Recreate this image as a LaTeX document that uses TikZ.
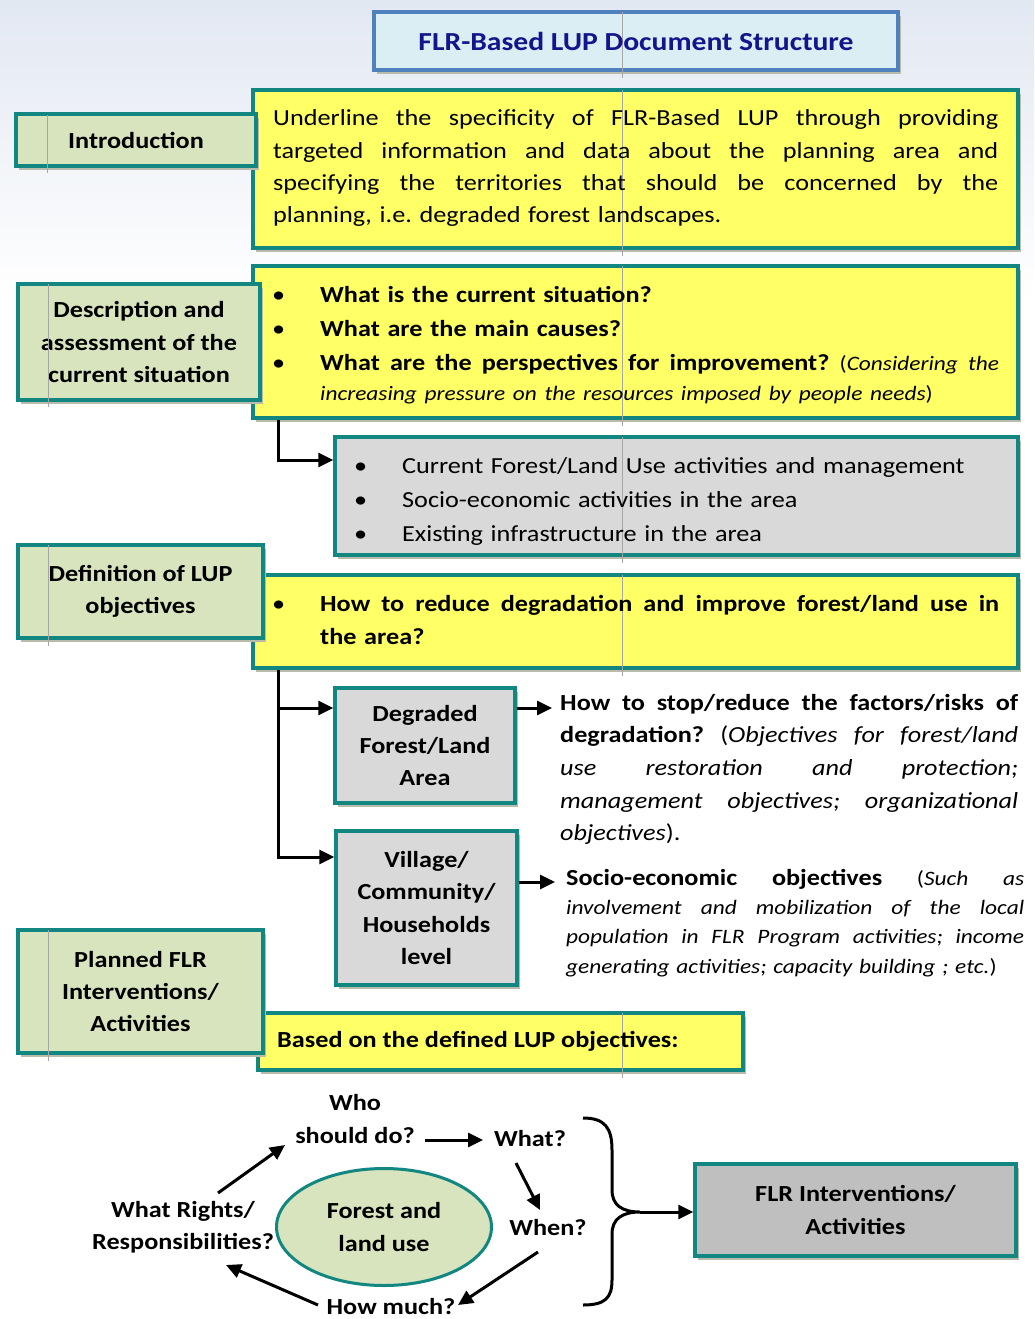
\documentclass[tikz,border=0pt]{standalone}
\usepackage{fontspec}
\setmainfont{Carlito}[FakeStretch=1.14]
\usetikzlibrary{arrows.meta,shapes.geometric,shadows}
\definecolor{tealb}{RGB}{18,134,128}
\definecolor{greenf}{RGB}{215,228,189}
\definecolor{yellowf}{RGB}{255,255,102}
\definecolor{greyf}{RGB}{217,217,217}
\definecolor{greyd}{RGB}{191,191,191}
\definecolor{titlef}{RGB}{219,238,244}
\definecolor{titleb}{RGB}{79,129,189}
\definecolor{navy}{RGB}{20,20,140}
\definecolor{shadowc}{RGB}{185,188,170}
\definecolor{bgtop}{RGB}{226,232,242}
\newcommand\jline[2]{\makebox[#1][s]{\spaceskip=0.23em plus 1fil\relax#2}}
\newcommand\smallit{\fontsize{20.5}{30}\selectfont}
\frenchspacing
\begin{document}
\begin{tikzpicture}[x=1pt,y=-1pt,
  boxbase/.style={line width=3.5pt, inner sep=0pt,
    general shadow={fill=shadowc, shadow xshift=3pt, shadow yshift=-4pt}},
  greenbox/.style={boxbase, draw=tealb, fill=greenf, align=center,
    font=\fontsize{23}{32.3}\selectfont\bfseries},
  yellowbox/.style={boxbase, draw=tealb, fill=yellowf},
  greybox/.style={boxbase, draw=tealb, fill=greyf, align=center,
    font=\fontsize{23}{32.3}\selectfont\bfseries},
  darkbox/.style={boxbase, draw=tealb, fill=greyd, align=center,
    font=\fontsize{23}{32.3}\selectfont\bfseries},
  titlebox/.style={line width=4pt, draw=titleb, fill=titlef, inner sep=0pt,
    general shadow={fill=shadowc, shadow xshift=3pt, shadow yshift=-4pt}},
  bodytxt/.style={anchor=base west, inner sep=0pt, align=left,
    font=\fontsize{23}{32.3}\selectfont},
  smalltxt/.style={anchor=base west, inner sep=0pt, align=left,
    font=\fontsize{20.5}{29.4}\selectfont},
  lbl/.style={inner sep=0pt, align=center, font=\fontsize{23}{32.3}\selectfont\bfseries},
  guide/.style={draw=gray!70, line width=0.6pt},
  arr/.style={line width=3pt, -{Triangle[length=15pt,width=14pt]}},
  bracepath/.style={line width=3pt}
]
\useasboundingbox (0,0) rectangle (1034,1319);
\fill[white] (0,0) rectangle (1034,1319);
\shade[top color=bgtop, bottom color=white] (0,0) rectangle (1034,300);

% title
\node[titlebox, minimum width=524pt, minimum height=58pt] (title) at (636,41) {};
\draw[guide] (622,12) -- (622,78);
\node[inner sep=0pt, text=navy, font=\fontsize{26}{30}\selectfont\bfseries] (titletxt) at (636,41) {FLR-Based LUP Document Structure};

% yellow and grey content boxes
\node[yellowbox, minimum width=765pt, minimum height=158pt] (yel1) at (635.5,169) {};
\node[yellowbox, minimum width=765pt, minimum height=152pt] (yel2) at (635.5,342) {};
\node[boxbase, draw=tealb, fill=greyf, minimum width=683pt, minimum height=118pt] (grey1) at (676.5,496) {};
\node[yellowbox, minimum width=765pt, minimum height=93pt] (yel3) at (635.5,621.5) {};
\node[yellowbox, minimum width=485pt, minimum height=57pt] (yel4) at (500.5,1041.5) {};
\draw[guide] (622,90) -- (622,256);
\draw[guide] (622,266) -- (622,426);
\draw[guide] (622,437) -- (622,563);
\draw[guide] (622,575) -- (622,676);
\draw[guide] (622,1013) -- (622,1078);

% green section boxes
\node[greenbox, minimum width=240pt, minimum height=52pt] (intro) at (136,140) {Introduction};
\node[greenbox, minimum width=242pt, minimum height=116pt] (desc) at (139,342) {Description and\\assessment of the\\current situation};
\node[greenbox, minimum width=245pt, minimum height=93pt] (def) at (140.5,591.5) {Definition of LUP\\objectives};
\node[greenbox, minimum width=245pt, minimum height=123pt] (plan) at (140.5,991.5) {Planned FLR\\Interventions/\\Activities};
\draw[guide] (47,115) -- (47,173);
\draw[guide] (48,284) -- (48,407);
\draw[guide] (48,545) -- (48,646);
\draw[guide] (48,930) -- (48,1061);

% texts in yellow / grey boxes
\node[bodytxt, text width=725pt] (introtxt) at (273,126) {%
\jline{725pt}{Underline the specificity of FLR-Based LUP through providing}\\
\jline{725pt}{targeted information and data about the planning area and}\\
\jline{725pt}{specifying the territories that should be concerned by the}\\
planning, i.e. degraded forest landscapes.};

\node[bodytxt, text width=727pt, font=\fontsize{23}{34}\selectfont] (desctxt) at (272,302) {%
\makebox[48pt][l]{\textbullet}\textbf{What is the current situation?}\\
\makebox[48pt][l]{\textbullet}\textbf{What are the main causes?}\\
\jline{727pt}{\makebox[48pt][l]{\textbullet}\textbf{What are the perspectives for improvement?} {\smallit(\textit{Considering the}}}\\[-4pt]
\hspace*{48pt}{\smallit\textit{increasing pressure on the resources imposed by people needs})}};

\node[bodytxt, text width=640pt, font=\fontsize{23}{34}\selectfont] (greytxt) at (354,473) {%
\makebox[48pt][l]{\textbullet}Current Forest/Land Use activities and management\\
\makebox[48pt][l]{\textbullet}Socio-economic activities in the area\\
\makebox[48pt][l]{\textbullet}Existing infrastructure in the area};

\node[bodytxt, text width=727pt, font=\fontsize{23}{33}\selectfont] (deftxt) at (272,611) {%
\jline{727pt}{\makebox[48pt][l]{\textbullet}\textbf{How to reduce degradation and improve forest/land use in}}\\
\hspace*{48pt}\textbf{the area?}};

\node[bodytxt] (yel4txt) at (277,1047) {\textbf{Based on the defined LUP objectives:}};

% degraded / village boxes
\node[greybox, minimum width=180pt, minimum height=115pt] (deg) at (425,745.5) {Degraded\\Forest/Land\\Area};
\node[greybox, minimum width=181pt, minimum height=154pt] (vil) at (426.5,908) {Village/\\Community/\\Households\\level};

\node[bodytxt, text width=458pt, font=\fontsize{23}{32.7}\selectfont] (degtxt) at (560,710) {%
\jline{458pt}{\textbf{How to stop/reduce the factors/risks of}}\\
\jline{458pt}{\textbf{degradation?} (\textit{Objectives for forest/land}}\\
\jline{458pt}{\textit{use restoration and protection;}}\\
\jline{458pt}{\textit{management objectives; organizational}}\\
\textit{objectives}).};

\node[smalltxt, text width=458pt] (viltxt) at (566,885) {%
\jline{458pt}{{\fontsize{23}{29.4}\selectfont\textbf{Socio-economic objectives}} (\textit{Such as}}\\
\jline{458pt}{\textit{involvement and mobilization of the local}}\\
\jline{458pt}{\textit{population in FLR Program activities; income}}\\
\textit{generating activities; capacity building ; etc.})};

% tree connectors
\draw[arr] (yel2.south -| 278,0) |- (grey1.west |- 0,460);
\draw[arr] (yel3.south -| 278,0) |- (vil.west |- 0,857);
\coordinate (br1) at (278,708);
\draw[arr] (br1) -- (deg.west |- br1);
\coordinate (degend) at (552,708);
\draw[arr] (deg.east |- degend) -- (degend);
\coordinate (vilend) at (555,882);
\draw[arr] (vil.east |- vilend) -- (vilend);

% bottom cycle
\node[ellipse, draw=tealb, line width=3pt, fill=greenf, minimum width=215pt, minimum height=117pt, inner sep=0pt, align=center, font=\fontsize{23}{32.3}\selectfont\bfseries] (forest) at (384,1227) {Forest and\\land use};
\node[lbl] (who) at (355,1119) {Who\\should do?};
\node[lbl] (what) at (530,1139) {What?};
\node[lbl] (when) at (548,1227) {When?};
\node[lbl] (howmuch) at (391,1306) {How much?};
\node[lbl] (rights) at (183,1227) {What Rights/\\Responsibilities?};

\coordinate (c1a) at (218,1193);
\coordinate (c1b) at (285,1145);
\coordinate (c2a) at (425,1140);
\coordinate (c2b) at (483,1140);
\coordinate (c3a) at (516,1163);
\coordinate (c3b) at (540,1210);
\coordinate (c4a) at (538,1252);
\coordinate (c4b) at (458,1305);
\coordinate (c5a) at (318,1305);
\coordinate (c5b) at (226,1265);
\draw[arr] (c1a) -- (c1b);
\draw[arr] (c2a) -- (c2b);
\draw[arr] (c3a) -- (c3b);
\draw[arr] (c4a) -- (c4b);
\draw[arr] (c5a) -- (c5b);

% brace and final box
\node[darkbox, minimum width=321pt, minimum height=92pt] (flr) at (855.5,1210) {FLR Interventions/\\Activities};
\coordinate (btip) at (640,1212);
\draw[bracepath] (583,1118) .. controls (605,1118) and (612,1128) .. (612,1150) -- (612,1190) .. controls (612,1205) and (622,1212) .. (btip) .. controls (622,1212) and (612,1219) .. (612,1234) -- (612,1280) .. controls (612,1298) and (605,1305) .. (583,1305);
\draw[arr] (btip) -- (flr.west |- btip);
\end{tikzpicture}
\end{document}
